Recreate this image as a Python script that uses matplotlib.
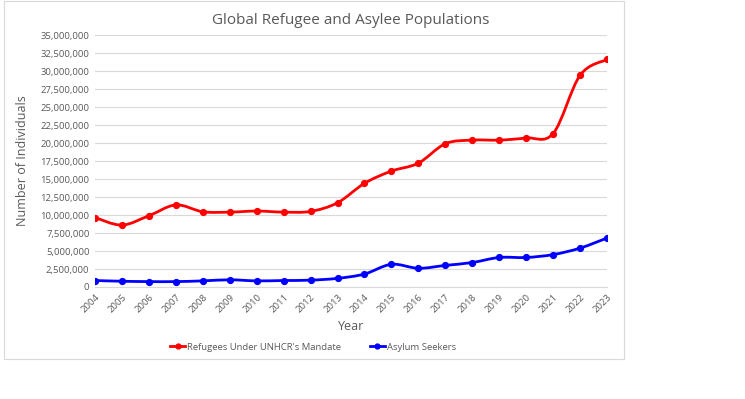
import numpy as np
import matplotlib
matplotlib.use("Agg")
import matplotlib.pyplot as plt
from matplotlib.path import Path
from matplotlib.patches import PathPatch, Rectangle
from matplotlib.lines import Line2D
from matplotlib.ticker import FuncFormatter, MultipleLocator

years = list(range(2004, 2024))
refugees = [9.65, 8.6, 9.9, 11.4, 10.45, 10.4, 10.55, 10.4, 10.5, 11.7,
            14.4, 16.1, 17.2, 19.9, 20.4, 20.4, 20.7, 21.3, 29.4, 31.6]
asylum = [0.9, 0.8, 0.75, 0.75, 0.85, 1.0, 0.85, 0.9, 0.95, 1.2,
          1.8, 3.15, 2.6, 3.0, 3.4, 4.1, 4.1, 4.5, 5.4, 6.8]
refugees = [v * 1e6 for v in refugees]
asylum = [v * 1e6 for v in asylum]

series = [("Refugees Under UNHCR's Mandate", refugees, "#ff0000"),
          ("Asylum Seekers", asylum, "#0000ff")]

GREY = "#595959"
plt.rcParams["font.family"] = ["Open Sans", "DejaVu Sans"]


def smooth_path(x, y, t=1 / 6):
    # excel style smoothed line: cubic bezier through each point
    x = np.asarray(x, float)
    y = np.asarray(y, float)
    verts = [(x[0], y[0])]
    codes = [Path.MOVETO]
    n = len(x)
    for i in range(n - 1):
        p0 = i - 1 if i > 0 else i
        p3 = i + 2 if i + 2 < n else i + 1
        c1 = (x[i] + (x[i + 1] - x[p0]) * t, y[i] + (y[i + 1] - y[p0]) * t)
        c2 = (x[i + 1] - (x[p3] - x[i]) * t, y[i + 1] - (y[p3] - y[i]) * t)
        verts += [c1, c2, (x[i + 1], y[i + 1])]
        codes += [Path.CURVE4] * 3
    return Path(verts, codes)


fig = plt.figure(figsize=(7.45, 3.99), dpi=100)
fig.patches.append(Rectangle((4 / 745, 1 - 359 / 399), 620 / 745, 358 / 399,
                             transform=fig.transFigure, fill=False,
                             edgecolor="#d9d9d9", linewidth=0.8))

ax = fig.add_axes([95 / 745, 1 - 287 / 399, 512 / 745, 252 / 399])

for label, vals, color in series:
    ax.add_patch(PathPatch(smooth_path(years, vals), facecolor="none",
                           edgecolor=color, linewidth=2.0, capstyle="round"))
    ax.plot(years, vals, "o", color=color, markersize=4.2, zorder=3)

ax.set_xlim(2004, 2023)
ax.set_ylim(0, 35e6)
ax.yaxis.set_major_locator(MultipleLocator(2.5e6))
ax.yaxis.set_major_formatter(FuncFormatter(lambda v, p: f"{int(v):,}"))
ax.set_xticks(years)
ax.set_xticklabels([str(y) for y in years], rotation=45, ha="right",
                   rotation_mode="anchor", fontsize=6.8, color=GREY)
ax.tick_params(axis="y", labelsize=6.8, colors=GREY, length=0, pad=4)
ax.tick_params(axis="x", length=0, pad=4)
ax.grid(axis="y", color="#d9d9d9", linewidth=0.8)
ax.set_axisbelow(True)
for s in ["top", "right", "left"]:
    ax.spines[s].set_visible(False)
ax.spines["bottom"].set_color("#d9d9d9")

ax.set_title("Global Refugee and Asylee Populations", fontsize=11, color=GREY, pad=8)
ax.set_xlabel("Year", fontsize=9, color=GREY, labelpad=4)
ax.set_ylabel("Number of Individuals", fontsize=9, color=GREY, labelpad=8)

handles = [Line2D([], [], color=c, marker="o", markersize=3.5, linewidth=2)
           for _, _, c in series]
fig.legend(handles, [s[0] for s in series], loc="center",
           bbox_to_anchor=(313 / 745, 1 - 347 / 399), ncol=2, frameon=False,
           fontsize=6.8, labelcolor=GREY, handlelength=1.6, handletextpad=0.2,
           columnspacing=3)

fig.savefig("out.png", dpi=100)
